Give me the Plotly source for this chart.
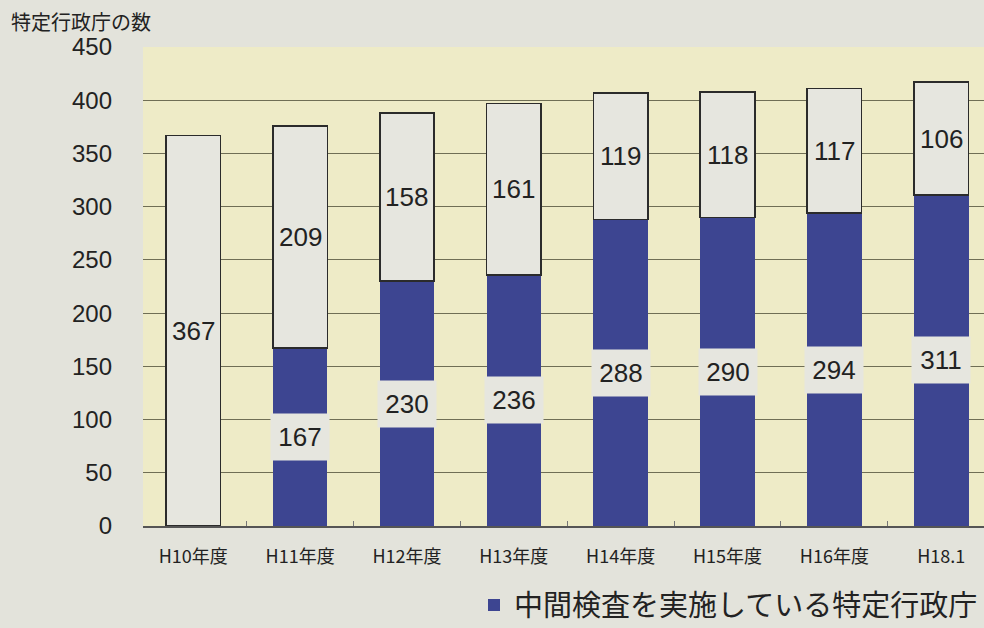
import plotly.graph_objects as go

categories = ["H10年度", "H11年度", "H12年度", "H13年度", "H14年度", "H15年度", "H16年度", "H18.1"]
implemented = [0, 167, 230, 236, 288, 290, 294, 311]
not_implemented = [367, 209, 158, 161, 119, 118, 117, 106]
y_ticks = [0, 50, 100, 150, 200, 250, 300, 350, 400, 450]

BLUE = "#3d4591"
WHITE = "#e6e6df"
JP = "Noto Sans CJK JP"

fig = go.Figure()
fig.add_trace(go.Bar(
    x=categories, y=implemented, name="中間検査を実施している特定行政庁",
    marker=dict(color=BLUE, line=dict(width=0)),
    width=0.51, showlegend=True,
))
fig.add_trace(go.Bar(
    x=categories, y=not_implemented, name="未実施",
    marker=dict(color=WHITE, line=dict(color="#2b2b2b", width=1.6)),
    width=0.51, showlegend=False,
))

annotations = []
for i, c in enumerate(categories):
    b = implemented[i]
    t = not_implemented[i]
    if b > 0:
        annotations.append(dict(
            x=c, y=b / 2, xref="x", yref="y", text=str(b), showarrow=False,
            font=dict(family="Liberation Sans", size=26, color="#222"),
            bgcolor=WHITE, width=56, height=44,
        ))
    annotations.append(dict(
        x=c, y=b + t / 2, xref="x", yref="y", text=str(t), showarrow=False,
        font=dict(family="Liberation Sans", size=26, color="#222"),
    ))

annotations.append(dict(
    xref="paper", yref="paper", x=(9 - 143) / 841, y=1 + (47 - 5) / 479,
    xanchor="left", yanchor="top",
    text="特定行政庁の数", showarrow=False,
    font=dict(family=JP, size=20, color="#222"),
))

fig.update_layout(
    width=984, height=628,
    barmode="stack",
    paper_bgcolor="#e3e3db",
    plot_bgcolor="#eeebc7",
    margin=dict(l=143, r=0, t=47, b=102, autoexpand=False),
    annotations=annotations,
    showlegend=True,
    legend=dict(
        orientation="h", x=(474 - 143) / 841, xanchor="left",
        y=-0.112, yanchor="top",
        font=dict(family=JP, size=29, color="#222"),
        bgcolor="rgba(0,0,0,0)",
    ),
    font=dict(family="Liberation Sans", color="#222"),
)
fig.update_xaxes(
    range=[-0.47, 7.4], tickfont=dict(family=JP, size=18, color="#222"),
    showline=True, linecolor="#555", linewidth=1.5,
    ticks="inside", tickson="boundaries", ticklen=5, tickcolor="#777",
    showgrid=False, ticklabelstandoff=14,
)
fig.update_yaxes(
    range=[0, 450], tickvals=y_ticks,
    tickfont=dict(family="Liberation Sans", size=24, color="#222"),
    showgrid=True, gridcolor="#6f6e55", gridwidth=1,
    ticklabelstandoff=30, zeroline=False, showline=False,
)

fig.write_html(
    "out.html",
    config={"displayModeBar": False},
    post_script="document.body.style.margin='0';document.body.style.overflow='hidden';",
)
